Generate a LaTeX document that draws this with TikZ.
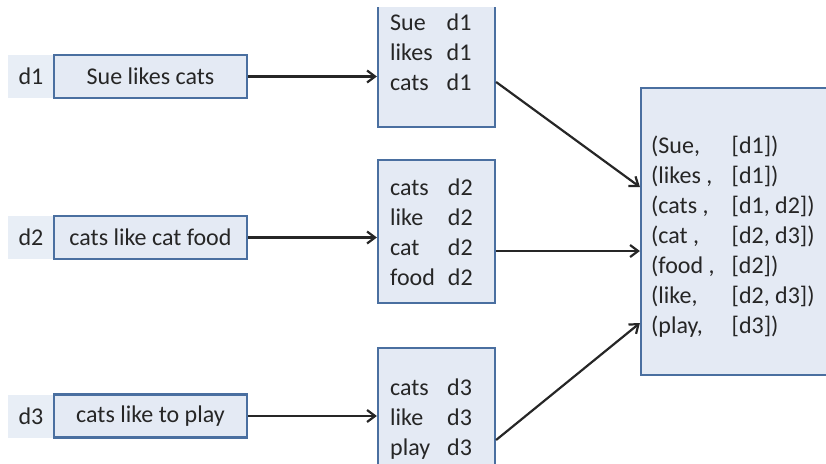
\documentclass[tikz,border=0pt]{standalone}
\usepackage{fontspec}
\setmainfont{Carlito}
\definecolor{idx_fill}{RGB}{228, 234, 244}
\definecolor{idx_line}{RGB}{74, 111, 160}
\definecolor{idx_tag}{RGB}{232, 238, 246}
\usetikzlibrary{arrows.meta, calc}

\begin{document}
\begin{tikzpicture}[x=1pt, y=-1pt, font=\fontsize{24}{30}\selectfont, text=black!85,
      blk/.style={draw=idx_line, fill=idx_fill, line width=2.2pt, inner sep=0pt},
      doc/.style={blk, minimum width=193pt, minimum height=43pt},
      tag/.style={fill=idx_tag, minimum width=46pt, minimum height=43pt, inner sep=0pt},
      words/.style={anchor=west, inner sep=0pt},
      arr/.style={-{Straight Barb[length=8pt, width=12pt]}, line width=2.2pt, black!85}]
      \useasboundingbox (0,0) rectangle (826,463);
      \clip (0,7) rectangle (826,463);
      % documents
      \node[tag] (t1) at (31, 76.5)  {d1};
      \node[tag] (t2) at (31, 237.5) {d2};
      \node[tag] (t3) at (31, 416)   {d3};
      \node[doc] (s1) at (150.5, 76.5)  {Sue likes cats};
      \node[doc] (s2) at (150.5, 237.5) {cats like cat food};
      \node[doc] (s3) at (150.5, 416)   {cats like to play};
      % map output
      \node[blk, minimum width=117pt, minimum height=130pt] (m1) at (436.5, 62)    {};
      \node[blk, minimum width=117pt, minimum height=143pt] (m2) at (436.5, 231.5) {};
      \node[blk, minimum width=117pt, minimum height=132pt] (m3) at (436.5, 414)   {};
      \node[words] (w1) at (390, 54)
        {\begin{tabular}{@{}l@{\hspace{14pt}}l@{}}Sue\hspace{6pt} & d1\\ likes & d1\\ cats & d1\end{tabular}};
      \node[words] (w2) at (390, 234)
        {\begin{tabular}{@{}l@{\hspace{13pt}}l@{}}cats & d2\\ like & d2\\ cat & d2\\ food & d2\end{tabular}};
      \node[words] (w3) at (390, 419)
        {\begin{tabular}{@{}l@{\hspace{17pt}}l@{}}cats & d3\\ like & d3\\ play & d3\end{tabular}};
      % inverted index
      \node[blk, minimum width=199pt, minimum height=287pt] (ix) at (740.5, 231.5) {};
      \node[words] (wi) at (651, 237.5)
        {\begin{tabular}{@{}l@{\hspace{17pt}}l@{}}(Sue, & [d1])\\ (likes , & [d1])\\ (cats , & [d1, d2])\\
          (cat , & [d2, d3])\\ (food , & [d2])\\ (like, & [d2, d3])\\ (play, & [d3])\end{tabular}};
      \draw[arr] (s1.east) -- (s1.east -| m1.west);
      \draw[arr] (s2.east) -- (s2.east -| m2.west);
      \draw[arr] (s3.east) -- (s3.east -| m3.west);
      \draw[arr] (m1.east |- 0,82)  -- (ix.west |- 0,187);
      \draw[arr] (m2.east |- 0,251) -- (ix.west |- 0,251);
      \draw[arr] (m3.east |- 0,440) -- (ix.west |- 0,323);
    \end{tikzpicture}
\end{document}
